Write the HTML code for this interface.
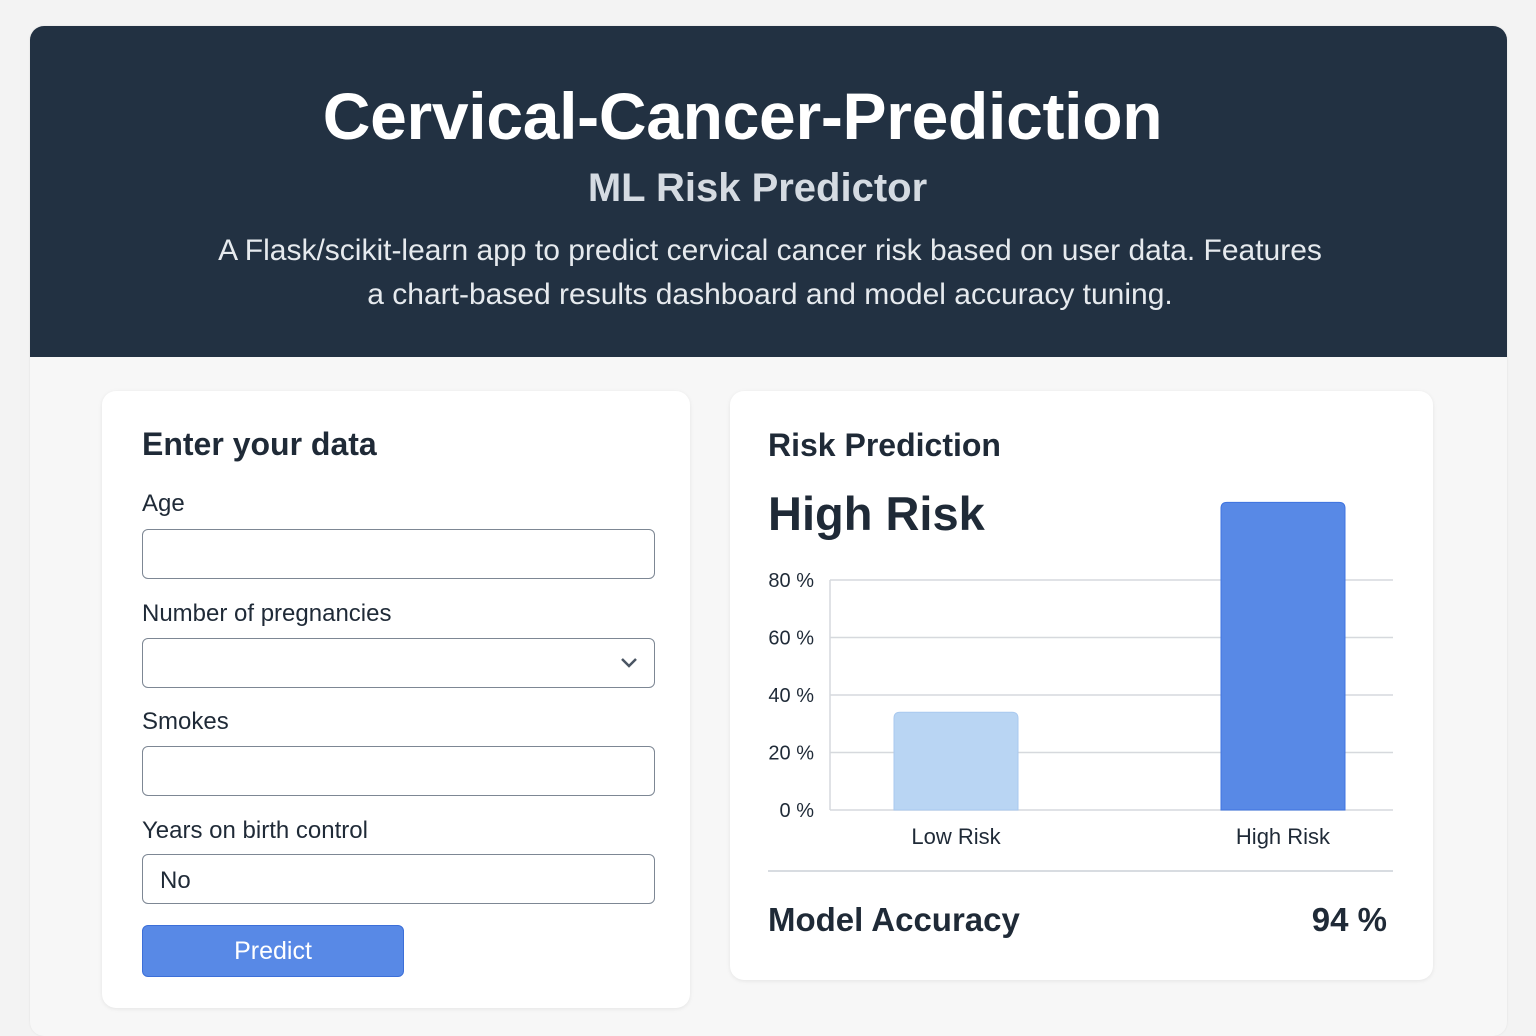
<!DOCTYPE html>
<html><head><meta charset="utf-8">
<style>
*{box-sizing:border-box;margin:0;padding:0}
body{width:1536px;height:1024px;background:#f3f3f3;font-family:"Liberation Sans",sans-serif;position:relative;overflow:hidden;color:#1f2a37}
#container{position:absolute;left:30px;top:26px;width:1477px;height:1010px;background:#f7f7f7;border-radius:14px;overflow:hidden;box-shadow:0 0 2px rgba(0,0,0,.08)}
#header{position:absolute;left:0;top:0;width:1477px;height:331px;background:#223142;text-align:center;color:#fff}
#header h1{position:absolute;top:52px;left:-26px;width:100%;font-size:66px;font-weight:bold;letter-spacing:-0.3px}
#header h2{position:absolute;top:140px;left:-11px;width:100%;font-size:40px;font-weight:bold;color:#d5dbe2}
#header p{position:absolute;top:203px;left:140px;width:1200px;font-size:30px;line-height:44px;color:#e6eaee}
.card{position:absolute;background:#fff;border-radius:14px;box-shadow:0 1px 4px rgba(0,0,0,.08)}
.lbl{position:absolute;left:40px;font-size:24px;color:#1f2a37}
.inp{position:absolute;left:40px;width:513px;height:50px;border:1.5px solid #7d8794;border-radius:6px;background:#fff;font-size:24px;padding:12px 17px}
</style></head><body>
<div id="container">
<div id="header">
<h1>Cervical-Cancer-Prediction</h1>
<h2>ML Risk Predictor</h2>
<p>A Flask/scikit-learn app to predict cervical cancer risk based on user data. Features<br>a chart-based results dashboard and model accuracy tuning.</p>
</div>
</div>
<div class="card" style="left:102px;top:391px;width:588px;height:617px">
<div style="position:absolute;left:40px;top:35px;font-size:32px;font-weight:bold;color:#1f2a37">Enter your data</div>
<div class="lbl" style="top:99px">Age</div>
<div class="inp" style="top:138px"></div>
<div class="lbl" style="top:209px">Number of pregnancies</div>
<div class="inp" style="top:247px"><svg style="position:absolute;right:16px;top:18px" width="18" height="12"><path d="M2 2 L9 9 L16 2" stroke="#4a5563" stroke-width="2.5" fill="none"/></svg></div>
<div class="lbl" style="top:317px">Smokes</div>
<div class="inp" style="top:355px"></div>
<div class="lbl" style="top:426px">Years on birth control</div>
<div class="inp" style="top:463px">No</div>
<div style="position:absolute;left:40px;top:534px;width:262px;height:52px;background:#5889e6;border:1.5px solid #3c6fd8;border-radius:6px;color:#fff;font-size:25px;text-align:center;line-height:50px">Predict</div>
</div>
<div class="card" style="left:730px;top:391px;width:703px;height:589px">
<div style="position:absolute;left:38px;top:36px;font-size:32px;font-weight:bold">Risk Prediction</div>
<div style="position:absolute;left:38px;top:95px;font-size:47px;font-weight:bold">High Risk</div>
<div style="position:absolute;left:38px;top:479px;width:625px;height:2px;background:#d8dce1"></div>
<div style="position:absolute;left:38px;top:510px;font-size:33px;font-weight:bold">Model Accuracy</div>
<div style="position:absolute;right:46px;top:510px;font-size:33px;font-weight:bold">94 %</div>
</div>
<svg id="chart" style="position:absolute;left:0;top:0" width="1536" height="1024"></svg>
<script>
const categories=["Low Risk","High Risk"];
const values=[34,107];
const ticks=[0,20,40,60,80];
const tickLabels=["0 %","20 %","40 %","60 %","80 %"];
const svg=document.getElementById('chart');
const NS='http://www.w3.org/2000/svg';
const x0=830,x1=1393,yBase=810,pxPer=230/80;
function y(v){return yBase-v*pxPer;}
function xc(i){return 956+i*327;}
function mk(t,a){const e=document.createElementNS(NS,t);for(const k in a)e.setAttribute(k,a[k]);svg.appendChild(e);return e;}
ticks.forEach((t,i)=>{
 const l=mk('line',{x1:x0,x2:x1,y1:y(t),y2:y(t),stroke:'#d6d9dd','stroke-width':1.5});
 
 
 const tx=mk('text',{x:814,y:y(t)+7,'text-anchor':'end','font-size':20,fill:'#1f2a37','font-family':'Liberation Sans, sans-serif'});
 tx.textContent=tickLabels[i];
 
 
});
const ax=mk('line',{x1:x0,x2:x0,y1:y(80),y2:yBase,stroke:'#d6d9dd','stroke-width':1.5});


const colors=['#b9d5f3','#5889e6'];
const strokes=['#a9c9ef','#3f74e0'];
categories.forEach((c,i)=>{
 const h=values[i]*pxPer;
 const b=mk('path',{d:`M${xc(i)-62} ${yBase} V${yBase-h+6} Q${xc(i)-62} ${yBase-h} ${xc(i)-56} ${yBase-h} H${xc(i)+56} Q${xc(i)+62} ${yBase-h} ${xc(i)+62} ${yBase-h+6} V${yBase} Z`,fill:colors[i],stroke:strokes[i],'stroke-width':1});
 
 
 const t=mk('text',{x:xc(i),y:844,'text-anchor':'middle','font-size':22,fill:'#1f2a37','font-family':'Liberation Sans, sans-serif'});
 t.textContent=c;
 
 
});
</script>
</body></html>
